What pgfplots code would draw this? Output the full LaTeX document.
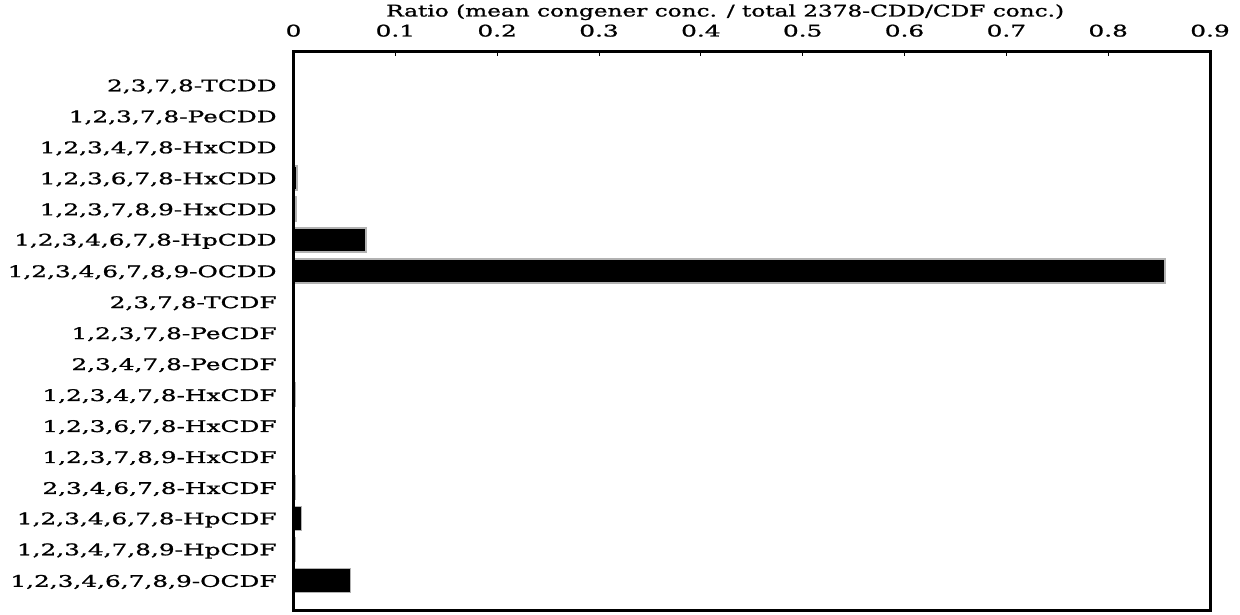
\documentclass[border=0pt]{standalone}
\usepackage{fontspec}
\setmainfont{DejaVu Serif}
\newfontfamily\labelfont[FakeStretch=1.55,FakeBold=1.2]{DejaVu Serif}
\newfontfamily\titlefont[FakeStretch=1.45,FakeBold=1.2]{DejaVu Serif}
\usepackage{pgfplots}
\usepackage{pgfplotstable}
\pgfplotsset{compat=1.18}
\pgfplotstableread{
idx val
0 0.0003
1 0.0006
2 0.001
3 0.0035
4 0.0025
5 0.071
6 0.856
7 0.0005
8 0.0005
9 0.001
10 0.002
11 0.001
12 0.0005
13 0.002
14 0.008
15 0.002
16 0.056
}\datatable
\begin{document}
\begin{tikzpicture}
\begin{axis}[
  scale only axis, width=458.25pt, height=279.5pt,
  axis on top,
  xmin=0, xmax=0.9, ymin=-1.08, ymax=16.97, y dir=reverse,
  xtick={0,0.1,0.2,0.3,0.4,0.5,0.6,0.7,0.8,0.9},
  xticklabels={0,0.1,0.2,0.3,0.4,0.5,0.6,0.7,0.8,0.9},
  xtick pos=upper, xticklabel pos=upper, xtick align=inside,
  major tick length=2.5pt,
  xtick style={line width=0.5pt, black},
  ytick={0,...,16},
  yticklabels={{2,3,7,8-TCDD}, {1,2,3,7,8-PeCDD}, {1,2,3,4,7,8-HxCDD}, {1,2,3,6,7,8-HxCDD}, {1,2,3,7,8,9-HxCDD}, {1,2,3,4,6,7,8-HpCDD}, {1,2,3,4,6,7,8,9-OCDD}, {2,3,7,8-TCDF}, {1,2,3,7,8-PeCDF}, {2,3,4,7,8-PeCDF}, {1,2,3,4,7,8-HxCDF}, {1,2,3,6,7,8-HxCDF}, {1,2,3,7,8,9-HxCDF}, {2,3,4,6,7,8-HxCDF}, {1,2,3,4,6,7,8-HpCDF}, {1,2,3,4,7,8,9-HpCDF}, {1,2,3,4,6,7,8,9-OCDF}},
  ytick style={draw=none},
  /pgf/number format/assume math mode=true,
  tick label style={font=\labelfont\fontsize{8}{9.6}\selectfont},
  xticklabel style={anchor=base, inner sep=0pt, yshift=7.5pt},
  yticklabel style={anchor=east, inner sep=0pt, xshift=-8.25pt, yshift=-0.75pt},
  axis line style={line width=1.5pt},
  xlabel={Ratio (mean congener conc. / total 2378-CDD/CDF conc.)},
  xlabel style={at={(axis description cs:0.471,1)}, anchor=base, inner sep=0pt, yshift=17.5pt, font=\titlefont\fontsize{8}{9.6}\selectfont},
]
\addplot[xbar, bar width=12pt, fill=black, draw=gray!60, line width=0.75pt] table[x=val, y=idx]{\datatable};
\coordinate (bl) at (axis description cs:0,0);
\coordinate (tr) at (axis description cs:1,1);
\end{axis}
\pgfresetboundingbox
\path ([shift={(-146.75pt,-1.75pt)}]bl) rectangle ([shift={(15pt,25.75pt)}]tr);
\end{tikzpicture}
\end{document}
